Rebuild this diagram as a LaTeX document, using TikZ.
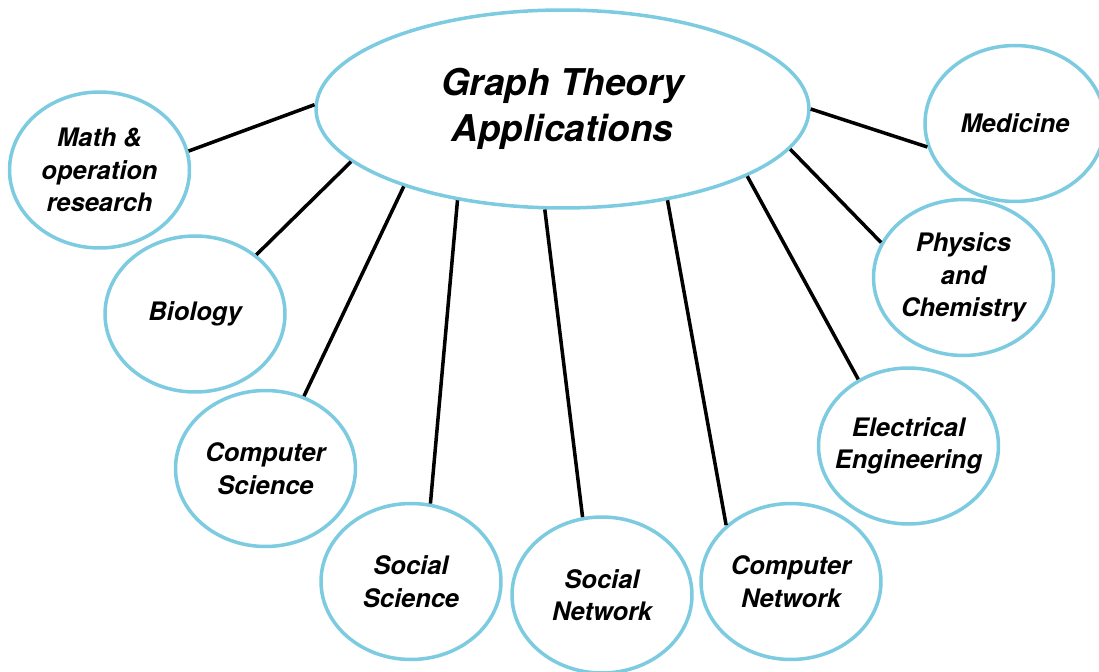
\documentclass[tikz,border=0pt]{standalone}
\usepackage{fontspec}
\setmainfont{TeX Gyre Heros}
\usetikzlibrary{shapes.geometric}
\definecolor{skyline}{RGB}{125,203,224}

\begin{document}
\begin{tikzpicture}[x=0.02cm,y=-0.02cm,
    field/.style={ellipse,draw=skyline,line width=2pt,fill=white,
      minimum width=3.6cm,minimum height=3.12cm,inner ysep=0pt,inner xsep=-0.3cm,
      align=center,font=\fontsize{14.5}{18.5}\selectfont\bfseries\itshape},
    link/.style={line width=2pt,black}]
  \useasboundingbox (0,0) rectangle (1099,672);
  % centre
  \node[ellipse,draw=skyline,line width=2pt,minimum width=9.86cm,
    minimum height=3.96cm,inner sep=0pt,align=center,
    font=\fontsize{21}{26}\selectfont\bfseries\itshape]
    (main) at (562.5,109) {Graph Theory\\Applications};
  % fields, left to right
  \node[field] (math) at (99.5,170) {Math \&\\operation\\research};
  \node[field] (bio) at (195,314) {Biology};
  \node[field] (cs) at (265.5,468.5) {Computer\\Science};
  \node[field] (socsci) at (411,581.5) {Social\\Science};
  \node[field] (socnet) at (602,595) {Social\\Network};
  \node[field] (compnet) at (791,581.5) {Computer\\Network};
  \node[field] (elec) at (908.5,446) {Electrical\\Engineering};
  \node[field] (phys) at (963.5,277.5) {Physics\\and\\Chemistry};
  \node[field] (med) at (1015,123.5) {Medicine};
  % spokes
  \foreach \a/\n/\b in {179/math/12,194/bio/44,206/cs/62,221/socsci/76,
      260/socnet/104,319/compnet/139,340/elec/127,350/phys/157,0/med/195}
    \draw[link] (main.\a) -- (\n.\b);
\end{tikzpicture}
\end{document}
